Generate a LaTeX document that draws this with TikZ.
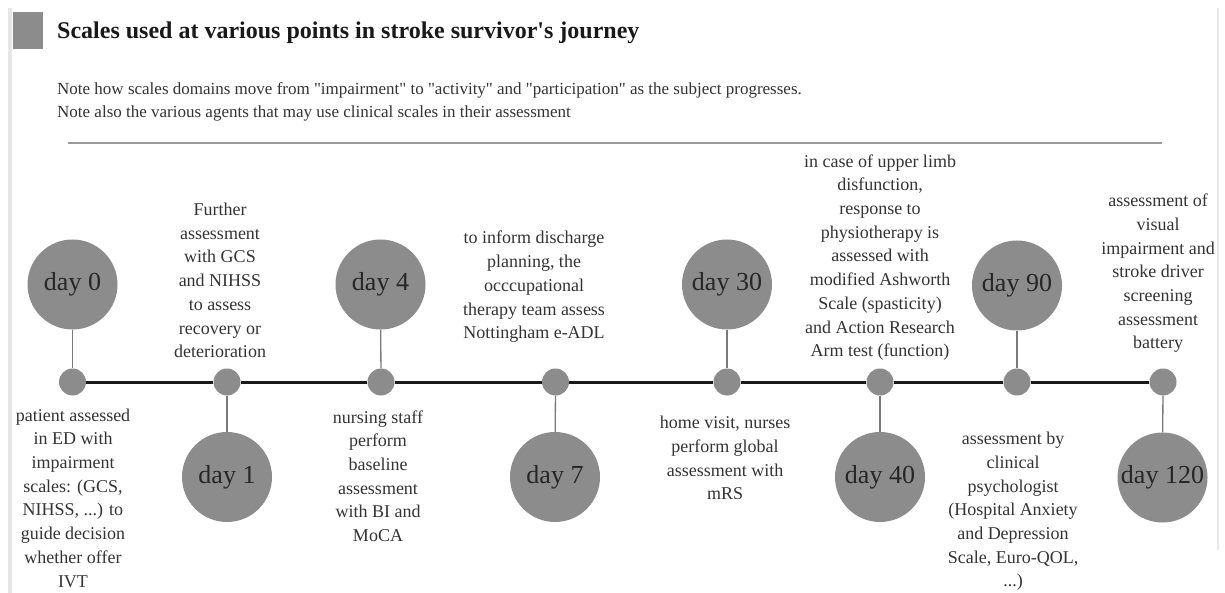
\documentclass[tikz,border=0pt]{standalone}
\usepackage{fontspec}
\setmainfont{Liberation Serif}
\newfontfamily\timesfont{Liberation Serif}
\definecolor{dotgray}{HTML}{8C8C8C}
\definecolor{txtgray}{HTML}{333333}
\definecolor{rulegray}{HTML}{9A9A9A}
\definecolor{edgegray}{HTML}{E6E6E6}
\definecolor{conngray}{HTML}{7A7A7A}
\tikzset{
  bigdot/.style={circle,fill=dotgray,draw=none,minimum size=90pt,inner sep=0pt,
    font=\timesfont\fontsize{26}{30}\selectfont,text=black!85},
  smalldot/.style={circle,fill=dotgray,draw=none,minimum size=27pt,inner sep=0pt},
  desc/.style={align=center,inner sep=0pt,text=txtgray,
    font=\timesfont\fontsize{18}{23.7}\selectfont},
  notetext/.style={anchor=base west,inner sep=0pt,text=txtgray,
    font=\timesfont\fontsize{17}{20}\selectfont},
  conn/.style={draw=conngray,line width=1.3pt},
  timeline/.style={draw=black!90,line width=3pt}
}
\begin{document}
\begin{tikzpicture}[x=1pt,y=-1pt]
\useasboundingbox (0,0) rectangle (1225,593);
% page frame
\draw[edgegray,line width=4pt] (10,8) -- (10,593);
\draw[edgegray!90,line width=2pt] (1218,8) -- (1218,550);
% header
\fill[dotgray] (12.7,11.7) rectangle (43.3,49.3);
\node[anchor=base west,inner sep=0pt,font=\timesfont\fontsize{24}{28}\selectfont\bfseries,text=black!90] (title) at (57,39)
  {Scales used at various points in stroke survivor\textquotesingle s journey};
\node[notetext] (note1) at (57,95)
  {Note how scales domains move from \textquotedbl impairment\textquotedbl{} to \textquotedbl activity\textquotedbl{} and \textquotedbl participation\textquotedbl{} as the subject progresses.};
\node[notetext] (note2) at (57,118)
  {Note also the various agents that may use clinical scales in their assessment};
\draw[rulegray,line width=2pt] (68,143) -- (1162,143);
% timeline points
\node[smalldot] (s0) at (72.5,382) {};
\node[smalldot] (s1) at (227,382) {};
\node[smalldot] (s4) at (381,382) {};
\node[smalldot] (s7) at (555.5,382) {};
\node[smalldot] (s30) at (727,382) {};
\node[smalldot] (s40) at (880,382) {};
\node[smalldot] (s90) at (1017,382) {};
\node[smalldot] (s120) at (1163,382) {};
\draw[timeline] (s0) -- (s1);
\draw[timeline] (s1) -- (s4);
\draw[timeline] (s4) -- (s7);
\draw[timeline] (s7) -- (s30);
\draw[timeline] (s30) -- (s40);
\draw[timeline] (s40) -- (s90);
\draw[timeline] (s90) -- (s120);
% day circles
\node[bigdot] (b0) at (72.5,284.5) {day 0};
\node[bigdot] (b1) at (227,477) {day 1};
\node[bigdot] (b4) at (380.5,284.5) {day 4};
\node[bigdot] (b7) at (555,477) {day 7};
\node[bigdot] (b30) at (727,284.5) {day 30};
\node[bigdot] (b40) at (880,477) {day 40};
\node[bigdot] (b90) at (1017,285.5) {day 90};
\node[bigdot] (b120) at (1162.5,477.5) {day 120};
\draw[conn] (b0) -- (s0);
\draw[conn] (b1) -- (s1);
\draw[conn] (b4) -- (s4);
\draw[conn] (b7) -- (s7);
\draw[conn] (b30) -- (s30);
\draw[conn] (b40) -- (s40);
\draw[conn] (b90) -- (s90);
\draw[conn] (b120) -- (s120);
% descriptions
\node[desc] (t0) at (73,498) {patient assessed\\in ED with\\impairment\\scales: (GCS,\\NIHSS, ...) to\\guide decision\\whether offer\\IVT};
\node[desc] (t1) at (220,280.5) {Further\\assessment\\with GCS\\and NIHSS\\to assess\\recovery or\\deterioration};
\node[desc] (t4) at (378,476) {nursing staff\\perform\\baseline\\assessment\\with BI and\\MoCA};
\node[desc] (t7) at (534,287) {to inform discharge\\planning, the\\occcupational\\therapy team assess\\Nottingham e-ADL};
\node[desc] (t30) at (725,458) {home visit, nurses\\perform global\\assessment with\\mRS};
\node[desc] (t40) at (880,257.5) {in case of upper limb\\disfunction,\\response to\\physiotherapy is\\assessed with\\modified Ashworth\\Scale (spasticity)\\and Action Research\\Arm test (function)};
\node[desc] (t90) at (1013,511.5) {assessment by\\clinical\\psychologist\\(Hospital Anxiety\\and Depression\\Scale, Euro-QOL,\\...)};
\node[desc] (t120) at (1158,273.5) {assessment of\\visual\\impairment and\\stroke driver\\screening\\assessment\\battery};
\end{tikzpicture}
\end{document}
